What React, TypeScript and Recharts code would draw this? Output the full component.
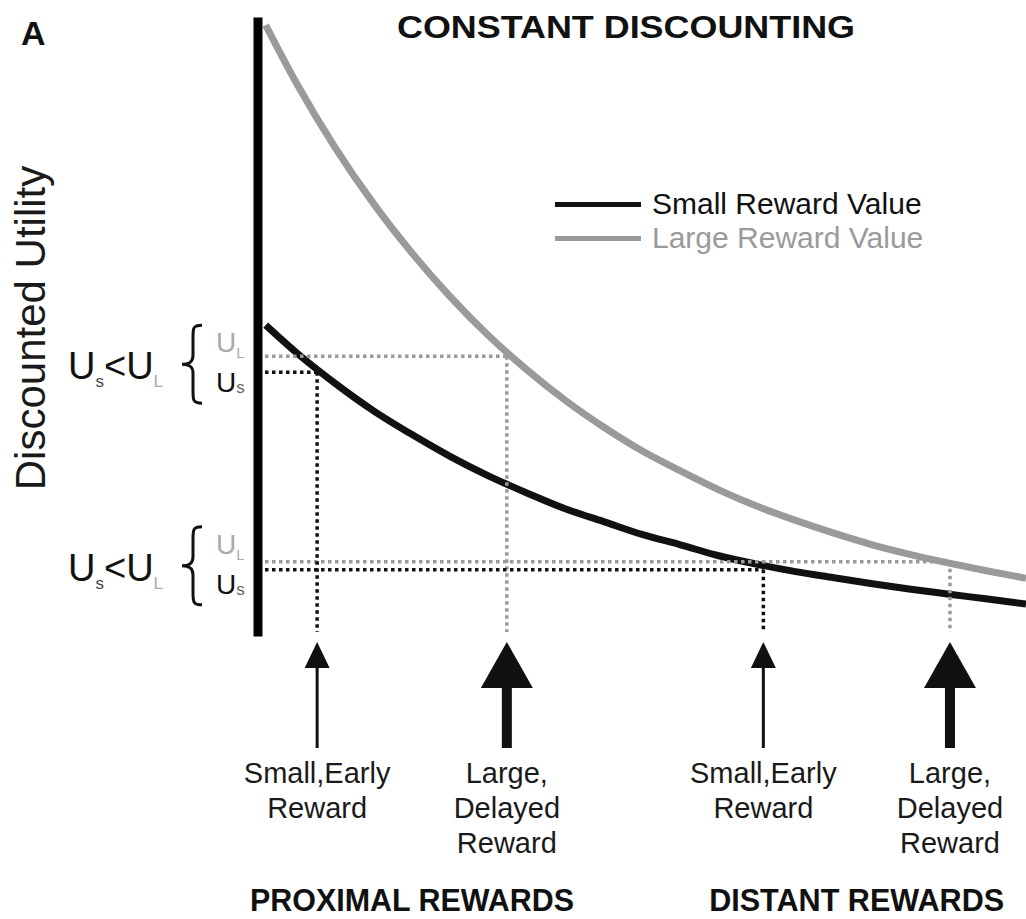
import {
	ComposedChart,
	Customized,
	Legend,
	Line,
	ReferenceDot,
	ReferenceLine,
	XAxis,
	YAxis,
} from 'recharts';

const delay = [1, 5, 10, 15, 20, 25, 30, 35, 40, 45, 50, 55, 60, 65, 70, 75, 80, 85, 90, 95, 100];
const smallReward = [50.3, 45.8, 40.8, 36.3, 32.4, 28.8, 25.6, 22.8, 20.2, 18.1, 16.0, 14.3, 12.5, 11.1, 9.9, 8.9, 7.9, 7.0, 6.2, 5.4, 4.6];
const largeReward = [99.5, 90.0, 79.5, 70.3, 62.2, 55.0, 48.6, 43.0, 38.0, 33.6, 29.7, 26.4, 23.3, 20.6, 18.3, 16.2, 14.3, 12.7, 11.3, 10.0, 8.8];

const seriesNames = ['Small Reward Value', 'Large Reward Value'];

// the two choice situations: proximal and distant
const groupNames = ['PROXIMAL REWARDS', 'DISTANT REWARDS'];
const smallChoiceX = [7.7, 65.8];
const largeChoiceX = [32.4, 90.1];
const smallUtil = [42.6, 10.2];
const largeUtil = [45.2, 11.5];

const smallLabel = ['Small,Early', 'Reward'];
const largeLabel = ['Large,', 'Delayed', 'Reward'];

const data = delay.map((t, i) => ({
	t,
	small: smallReward[i],
	large: largeReward[i],
}));

const BLACK = '#111';
const GRAY = '#9a9a9a';
const FONT = "'Liberation Sans', Arial, sans-serif";

function Arrow({ cx, cy, big, lines }: { cx: number; cy: number; big: boolean; lines: string[] }) {
	const half = big ? 26 : 12.5;
	const base = big ? 56 : 36;
	const shaft = big ? 10 : 3;
	return (
		<g>
			<polygon points={`${cx},${cy + 10} ${cx - half},${cy + base} ${cx + half},${cy + base}`} fill={BLACK} />
			<rect x={cx - shaft / 2} y={cy + base - 1} width={shaft} height={117 - base} fill={BLACK} />
			{lines.map((s, i) => (
				<text key={i} x={cx} y={cy + 151 + i * 35} textAnchor="middle" fontFamily={FONT} fontSize={29} fill="#1a1a1a">
					{s}
				</text>
			))}
		</g>
	);
}

function Brace({ cx, cy }: { cx: number; cy: number }) {
	const r = cx - 56;
	const m = r - 9;
	const l = cx - 76;
	const top = cy - 39;
	const bot = cy + 39;
	const d = `M ${r} ${top} C ${m} ${top} ${m} ${top + 3} ${m} ${top + 12} L ${m} ${cy - 9} C ${m} ${cy - 2} ${m - 4} ${cy} ${l} ${cy} C ${m - 4} ${cy} ${m} ${cy + 2} ${m} ${cy + 9} L ${m} ${bot - 12} C ${m} ${bot - 3} ${m} ${bot} ${r} ${bot}`;
	return (
		<g fontFamily={FONT}>
			<text x={cx - 190} y={cy + 15} fontSize={38} fill={BLACK}>
				U
				<tspan fontSize={17} dy={8} fill="#444">s</tspan>
				<tspan dy={-8}>{'<U'}</tspan>
				<tspan fontSize={17} dy={8} fill="#aaa">L</tspan>
			</text>
			<path d={d} fill="none" stroke={BLACK} strokeWidth={3} />
			<text x={cx - 42} y={cy - 12} fontSize={28} fill="#aaa">
				U<tspan fontSize={15} dy={6}>L</tspan>
			</text>
			<text x={cx - 42} y={cy + 28} fontSize={28} fill={BLACK}>
				U<tspan fontSize={17} dy={1} fill="#666">s</tspan>
			</text>
		</g>
	);
}

function Titles() {
	return (
		<g>
			<text x={21} y={45} fontFamily={FONT} fontWeight="bold" fontSize={34} fill={BLACK}>
				A
			</text>
			<text x={397} y={38} fontFamily={FONT} fontWeight="bold" fontSize={32} fill={BLACK} textLength={458} lengthAdjust="spacingAndGlyphs">
				CONSTANT DISCOUNTING
			</text>
			<text x={45} y={328} transform="rotate(-90 45 328)" textAnchor="middle" fontFamily={FONT} fontSize={42} fill="#1a1a1a">
				Discounted Utility
			</text>
		</g>
	);
}

function LegendBox({ payload }: any) {
	const items = [...(payload || [])].sort(
		(a: any, b: any) => seriesNames.indexOf(a.value) - seriesNames.indexOf(b.value),
	);
	return (
		<div style={{ fontFamily: FONT, fontSize: 30, lineHeight: '34px' }}>
			{items.map((e: any) => (
				<div key={e.value} style={{ display: 'flex', alignItems: 'center' }}>
					<div style={{ width: 86, height: 5, background: e.color, marginRight: 11 }} />
					<span style={{ color: e.color }}>{e.value}</span>
				</div>
			))}
		</div>
	);
}

const dotted = { strokeWidth: 3.5, strokeDasharray: '3.5 3.5', ifOverflow: 'visible' as const };

export default function App() {
	return (
		<div style={{ position: 'absolute', left: 0, top: 0, background: '#fff' }}>
			<ComposedChart width={1026} height={919} data={data} margin={{ top: 22, right: 0, bottom: 287, left: 0 }}>
				<XAxis
					dataKey="t"
					type="number"
					domain={[0, 100]}
					height={0}
					tick={false}
					tickLine={false}
					axisLine={{ stroke: '#000', strokeWidth: 9, strokeLinecap: 'square' }}
				/>
				<YAxis
					type="number"
					domain={[0, 100]}
					width={258}
					tick={false}
					tickLine={false}
					axisLine={{ stroke: '#000', strokeWidth: 9, strokeLinecap: 'square' }}
				/>
				<Legend
					layout="vertical"
					align="center"
					verticalAlign="middle"
					content={<LegendBox />}
					wrapperStyle={{ left: 555, top: 187, width: 'auto' }}
				/>
				<Line
					dataKey="small"
					name={seriesNames[0]}
					type="monotone"
					stroke={BLACK}
					strokeWidth={7}
					dot={false}
					activeDot={false}
					isAnimationActive={false}
				/>
				<Line
					dataKey="large"
					name={seriesNames[1]}
					type="monotone"
					stroke={GRAY}
					strokeWidth={7}
					dot={false}
					activeDot={false}
					isAnimationActive={false}
				/>
				{groupNames.map((g, i) => (
					<ReferenceLine
						key={'lh' + i}
						segment={[{ x: 0, y: largeUtil[i] }, { x: largeChoiceX[i], y: largeUtil[i] }]}
						stroke={GRAY}
						{...dotted}
					/>
				))}
				{groupNames.map((g, i) => (
					<ReferenceLine
						key={'lv' + i}
						segment={[{ x: largeChoiceX[i], y: largeUtil[i] }, { x: largeChoiceX[i], y: 0 }]}
						stroke={GRAY}
						{...dotted}
					/>
				))}
				{groupNames.map((g, i) => (
					<ReferenceLine
						key={'sh' + i}
						segment={[{ x: 0, y: smallUtil[i] }, { x: smallChoiceX[i], y: smallUtil[i] }]}
						stroke={BLACK}
						{...dotted}
					/>
				))}
				{groupNames.map((g, i) => (
					<ReferenceLine
						key={'sv' + i}
						segment={[{ x: smallChoiceX[i], y: smallUtil[i] }, { x: smallChoiceX[i], y: 0 }]}
						stroke={BLACK}
						{...dotted}
					/>
				))}
				{groupNames.map((g, i) => (
					<ReferenceDot
						key={'as' + i}
						x={smallChoiceX[i]}
						y={0}
						ifOverflow="visible"
						shape={(p: any) => <Arrow cx={p.cx} cy={p.cy} big={false} lines={smallLabel} />}
					/>
				))}
				{groupNames.map((g, i) => (
					<ReferenceDot
						key={'al' + i}
						x={largeChoiceX[i]}
						y={0}
						ifOverflow="visible"
						shape={(p: any) => <Arrow cx={p.cx} cy={p.cy} big={true} lines={largeLabel} />}
					/>
				))}
				{groupNames.map((g, i) => (
					<ReferenceDot
						key={'br' + i}
						x={0}
						y={(smallUtil[i] + largeUtil[i]) / 2}
						ifOverflow="visible"
						shape={(p: any) => <Brace cx={p.cx} cy={p.cy} />}
					/>
				))}
				{groupNames.map((g, i) => (
					<ReferenceDot
						key={'g' + i}
						x={(smallChoiceX[i] + largeChoiceX[i]) / 2}
						y={0}
						ifOverflow="visible"
						shape={(p: any) => (
							<text x={p.cx} y={p.cy + 279} textAnchor="middle" fontFamily={FONT} fontWeight="bold" fontSize={31} fill={BLACK} textLength={i === 0 ? 324 : 295} lengthAdjust="spacingAndGlyphs">
								{g}
							</text>
						)}
					/>
				))}
				<Customized component={<Titles />} />
			</ComposedChart>
		</div>
	);
}
